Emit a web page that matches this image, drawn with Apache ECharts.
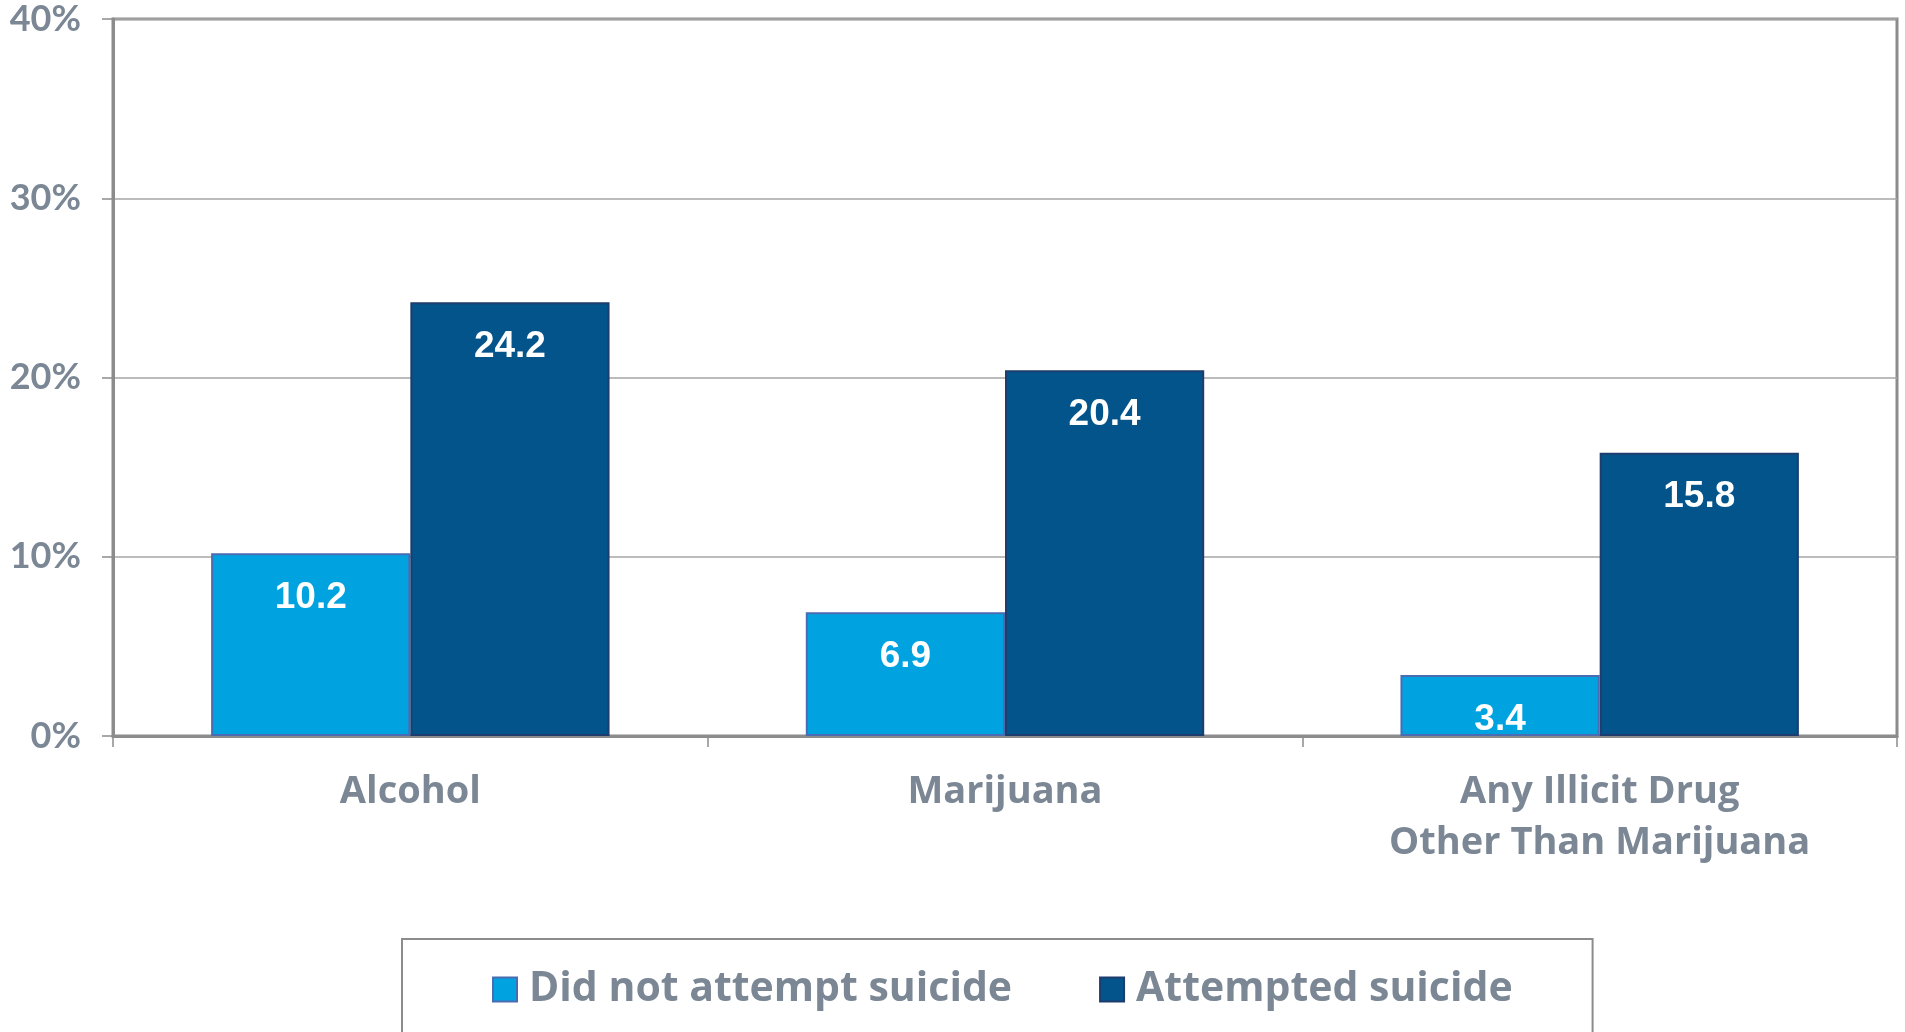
<!DOCTYPE html>
<html>
<head>
<meta charset="utf-8">
<style>
  html, body { margin: 0; padding: 0; background: #fff; }
  #chart { width: 1905px; height: 1032px; }
</style>
<script src="https://cdn.jsdelivr.net/npm/echarts@6/dist/echarts.min.js"></script>
</head>
<body>
<div id="chart"></div>
<script>
// categories and values
const categories = ['Alcohol', 'Marijuana', 'Any Illicit Drug\nOther Than Marijuana'];
const seriesNames = ['Did not attempt suicide', 'Attempted suicide'];
const notAttempted = [10.2, 6.9, 3.4];
const attempted = [24.2, 20.4, 15.8];

const grayText = '#7b8794';
const axisGray = '#8c8c8c';

let chart = echarts.init(document.getElementById('chart'));
chart.setOption({
  animation: false,
  grid: {
    left: 113,
    right: 8,
    top: 19,
    bottom: 296,
    show: true,
    borderColor: axisGray,
    borderWidth: 3,
  },
  legend: {
    data: seriesNames,
    left: 402,
    top: 939,
    padding: [30, 80, 56, 90],
    itemGap: 87,
    itemWidth: 24,
    itemHeight: 24,
    icon: 'rect',
    borderColor: '#8c8c8c',
    borderWidth: 2,
    selectedMode: false,
    textStyle: {
      color: grayText,
      fontFamily: 'Open Sans',
      fontWeight: 'bold',
      fontSize: 41,
      padding: [0, 0, 0, 7],
    },
  },
  xAxis: {
    type: 'category',
    data: categories,
    axisLine: { show: true, lineStyle: { color: axisGray, width: 3 } },
    axisTick: { show: true, length: 11, lineStyle: { color: axisGray, width: 1.5 } },
    axisLabel: {
      color: grayText,
      fontFamily: 'Open Sans',
      fontWeight: 'bold',
      fontSize: 38,
      lineHeight: 51,
      margin: 31,
    },
  },
  yAxis: {
    type: 'value',
    min: 0,
    max: 40,
    interval: 10,
    axisLine: { show: true, lineStyle: { color: axisGray, width: 3 } },
    axisTick: { show: true, length: 11, lineStyle: { color: axisGray, width: 1.5 } },
    splitLine: { lineStyle: { color: '#a6a6a6', width: 1.5 } },
    axisLabel: {
      formatter: '{value}%',
      color: grayText,
      fontFamily: 'Lato',
      fontWeight: 'bold',
      fontSize: 36,
      margin: 32,
    },
  },
  series: [
    {
      name: seriesNames[0],
      type: 'bar',
      data: notAttempted,
      barGap: '0%',
      barCategoryGap: '33%',
      itemStyle: { color: '#00a3df', borderColor: '#4a6cb3', borderWidth: 2 },
      label: {
        show: true,
        position: 'insideTop',
        distance: 26,
        color: '#fff',
        fontFamily: 'Liberation Sans',
        fontWeight: 'bold',
        fontSize: 37,
      },
    },
    {
      name: seriesNames[1],
      type: 'bar',
      data: attempted,
      itemStyle: { color: '#02548b', borderColor: '#1e3d6e', borderWidth: 2 },
      label: {
        show: true,
        position: 'insideTop',
        distance: 26,
        color: '#fff',
        fontFamily: 'Liberation Sans',
        fontWeight: 'bold',
        fontSize: 37,
      },
    },
  ],
});
</script>
</body>
</html>
